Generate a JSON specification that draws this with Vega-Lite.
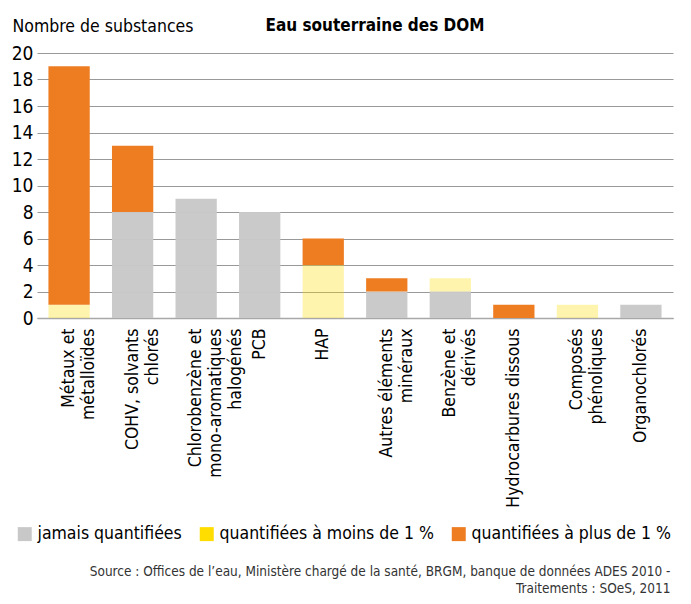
{
  "$schema": "https://vega.github.io/schema/vega-lite/v6.json",
  "autosize": "none",
  "width": 636,
  "height": 265,
  "padding": {"left": 37, "top": 53, "right": 18, "bottom": 286},
  "background": "white",
  "config": {
    "font": "'DejaVu Sans Condensed', 'Roboto Condensed', 'Liberation Sans', sans-serif",
    "view": {"stroke": null}
  },
  "title": {
    "text": "Eau souterraine des DOM",
    "anchor": "middle",
    "frame": "group",
    "dx": 20,
    "dy": 26,
    "fontSize": 17,
    "fontWeight": "bold",
    "color": "#000000",
    "offset": 8
  },
  "data": {
    "values": [
      {"cat": "Métaux et|métalloïdes", "type": "quantifiées à moins de 1 %", "ord": 2, "n": 1},
      {"cat": "Métaux et|métalloïdes", "type": "quantifiées à plus de 1 %", "ord": 3, "n": 18},
      {"cat": "COHV, solvants|chlorés", "type": "jamais quantifiées", "ord": 1, "n": 8},
      {"cat": "COHV, solvants|chlorés", "type": "quantifiées à plus de 1 %", "ord": 3, "n": 5},
      {"cat": "Chlorobenzène et|mono-aromatiques|halogénés", "type": "jamais quantifiées", "ord": 1, "n": 9},
      {"cat": "PCB", "type": "jamais quantifiées", "ord": 1, "n": 8},
      {"cat": "HAP", "type": "quantifiées à moins de 1 %", "ord": 2, "n": 4},
      {"cat": "HAP", "type": "quantifiées à plus de 1 %", "ord": 3, "n": 2},
      {"cat": "Autres éléments|minéraux", "type": "jamais quantifiées", "ord": 1, "n": 2},
      {"cat": "Autres éléments|minéraux", "type": "quantifiées à plus de 1 %", "ord": 3, "n": 1},
      {"cat": "Benzène et|dérivés", "type": "jamais quantifiées", "ord": 1, "n": 2},
      {"cat": "Benzène et|dérivés", "type": "quantifiées à moins de 1 %", "ord": 2, "n": 1},
      {"cat": "Hydrocarbures dissous", "type": "quantifiées à plus de 1 %", "ord": 3, "n": 1},
      {"cat": "Composés|phénoliques", "type": "quantifiées à moins de 1 %", "ord": 2, "n": 1},
      {"cat": "Organochlorés", "type": "jamais quantifiées", "ord": 1, "n": 1}
    ]
  },
  "mark": {"type": "bar"},
  "encoding": {
    "x": {
      "field": "cat",
      "type": "nominal",
      "sort": null,
      "scale": {"paddingInner": 0.35, "paddingOuter": 0.18},
      "axis": {
        "labelAngle": -90,
        "labelExpr": "split(datum.value, '|')",
        "labelFontSize": 17.5,
        "labelColor": "#000000",
        "labelPadding": 10,
        "labelLineHeight": 20,
        "ticks": false,
        "domainColor": "#a8a8a8",
        "domainWidth": 1.5,
        "grid": false,
        "title": ["Source : Offices de l’eau, Ministère chargé de la santé, BRGM, banque de données ADES 2010 -", "Traitements : SOeS, 2011"],
        "titleFontSize": 13.5,
        "titleFontWeight": "normal",
        "titleColor": "#333333",
        "titleAlign": "right",
        "titleAnchor": "end",
        "titleAngle": 0,
        "titleBaseline": "alphabetic",
        "titleLineHeight": 17,
        "titleX": 633,
        "titleY": 257
      }
    },
    "y": {
      "field": "n",
      "type": "quantitative",
      "stack": "zero",
      "scale": {"domain": [0, 20]},
      "axis": {
        "values": [0, 2, 4, 6, 8, 10, 12, 14, 16, 18, 20],
        "labelFontSize": 19,
        "labelColor": "#000000",
        "labelPadding": 4,
        "ticks": false,
        "domain": false,
        "gridColor": "#999999",
        "gridWidth": 1.2,
        "title": "Nombre de substances",
        "titleFontSize": 17.5,
        "titleFontWeight": "normal",
        "titleColor": "#000000",
        "titleAngle": 0,
        "titleAlign": "left",
        "titleBaseline": "alphabetic",
        "titleX": -25,
        "titleY": -22
      }
    },
    "color": {
      "field": "type",
      "type": "nominal",
      "scale": {
        "domain": ["jamais quantifiées", "quantifiées à moins de 1 %", "quantifiées à plus de 1 %"],
        "range": ["#c8c8c9", "#ffdd00", "#ee7d22"]
      },
      "legend": {
        "orient": "none",
        "direction": "horizontal",
        "legendX": -21,
        "legendY": 472,
        "title": null,
        "symbolType": "square",
        "symbolSize": 196,
        "symbolStrokeWidth": 0,
        "symbolOpacity": 1,
        "labelFontSize": 17.5,
        "labelColor": "#000000",
        "labelOffset": 4,
        "columnPadding": 16,
        "labelLimit": 400
      }
    },
    "fillOpacity": {
      "field": "type",
      "type": "nominal",
      "scale": {
        "type": "ordinal",
        "domain": ["jamais quantifiées", "quantifiées à moins de 1 %", "quantifiées à plus de 1 %"],
        "range": [0.97, 0.32, 1]
      },
      "legend": null
    },
    "order": {"field": "ord", "type": "quantitative"}
  }
}
